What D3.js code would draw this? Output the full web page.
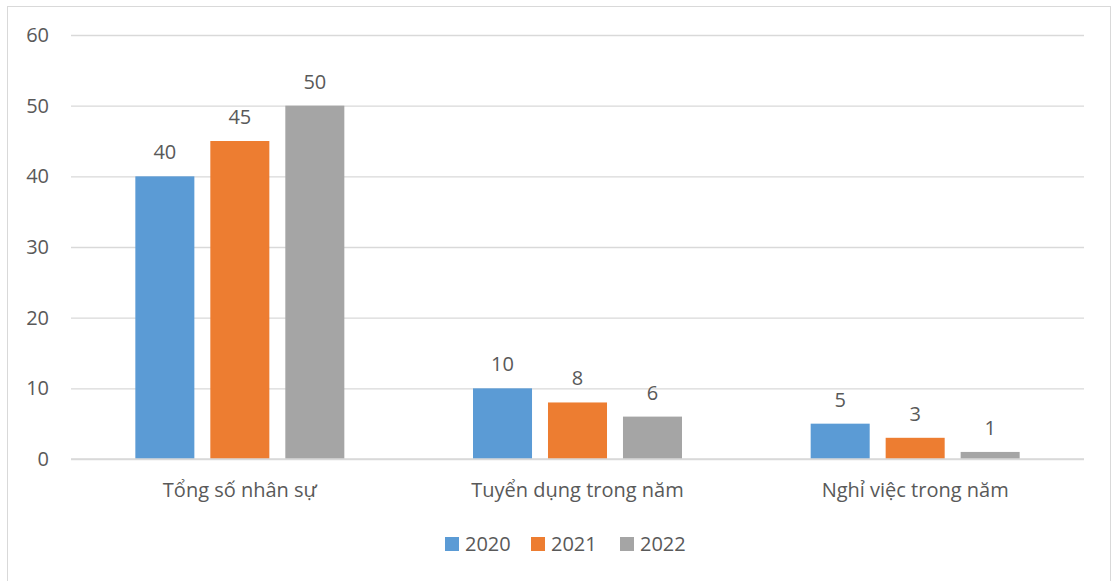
<!DOCTYPE html>
<html><head><meta charset="utf-8">
<script src="https://cdn.jsdelivr.net/npm/d3@7"></script>
<style>body{margin:0;background:#fff;font-family:"Open Sans","Noto Sans",sans-serif;}</style>
</head><body><svg id="c" width="1114" height="581"></svg>
<script>
const categories = ["Tổng số nhân sự", "Tuyển dụng trong năm", "Nghỉ việc trong năm"];
const years = ["2020", "2021", "2022"];
const values2020 = [40, 10, 5];
const values2021 = [45, 8, 3];
const values2022 = [50, 6, 1];
const yTicks = [0, 10, 20, 30, 40, 50, 60];
const colors = ["#5b9bd5", "#ed7d31", "#a5a5a5"];
const seriesValues = [values2020, values2021, values2022];

const FONT = "'Open Sans','Noto Sans',sans-serif";
const FS = 20;
const svg = d3.select("#c");
const txt = "#595959";
svg.append("rect").attr("x",7.5).attr("y",6.5).attr("width",1103).attr("height",590)
  .attr("fill","#fff").attr("stroke","#d9d9d9").attr("stroke-width",1);

const pLeft=71, pRight=1084, pTop=35, pBottom=459;
const y = d3.scaleLinear().domain([0,60]).range([pBottom,pTop]);
const x0 = d3.scaleBand().domain(categories).range([pLeft,pRight]).padding(0);
const x1 = d3.scaleBand().domain(years).range([0,x0.bandwidth()]).paddingInner(0.213).paddingOuter(0.858);

const yAxis = d3.axisLeft(y).tickValues(yTicks).tickSize(-(pRight-pLeft)).tickPadding(22);
const gy = svg.append("g").attr("transform",`translate(${pLeft},0)`).call(yAxis);
gy.select(".domain").remove();
gy.selectAll(".tick line").attr("stroke","#d9d9d9").attr("stroke-width",1.3);
gy.selectAll(".tick text").attr("fill",txt).attr("font-size",FS).attr("font-family",FONT).attr("x",-22);

const groups = svg.append("g").selectAll("g").data(categories).join("g")
  .attr("transform",c=>`translate(${x0(c)},0)`);
years.forEach((yr,i)=>{
  groups.append("rect")
    .attr("x",x1(yr)).attr("width",x1.bandwidth())
    .attr("y",(c,j)=>y(seriesValues[i][j]))
    .attr("height",(c,j)=>y(0)-y(seriesValues[i][j]))
    .attr("fill",colors[i]);
  groups.append("text")
    .attr("x",x1(yr)+x1.bandwidth()/2)
    .attr("y",(c,j)=>y(seriesValues[i][j])-17)
    .attr("text-anchor","middle").attr("fill",txt).attr("font-size",FS).attr("font-family",FONT)
    .text((c,j)=>seriesValues[i][j]);
});
svg.append("line").attr("x1",pLeft).attr("x2",pRight).attr("y1",y(0)).attr("y2",y(0))
  .attr("stroke","#d9d9d9").attr("stroke-width",1.5);

const xAxis = d3.axisBottom(x0).tickSize(0).tickPadding(24);
const gx = svg.append("g").attr("transform",`translate(0,${pBottom})`).call(xAxis);
gx.select(".domain").remove();
gx.selectAll(".tick text").attr("fill",txt).attr("font-size",FS).attr("font-family",FONT);

const legendX = [445, 531, 620];
const lg = svg.append("g");
years.forEach((yr,i)=>{
  lg.append("rect").attr("x",legendX[i]).attr("y",537).attr("width",14).attr("height",14).attr("fill",colors[i]);
  lg.append("text").attr("x",legendX[i]+20).attr("y",551).attr("fill",txt).attr("font-size",FS).attr("font-family",FONT).text(yr);
});
</script></body></html>
